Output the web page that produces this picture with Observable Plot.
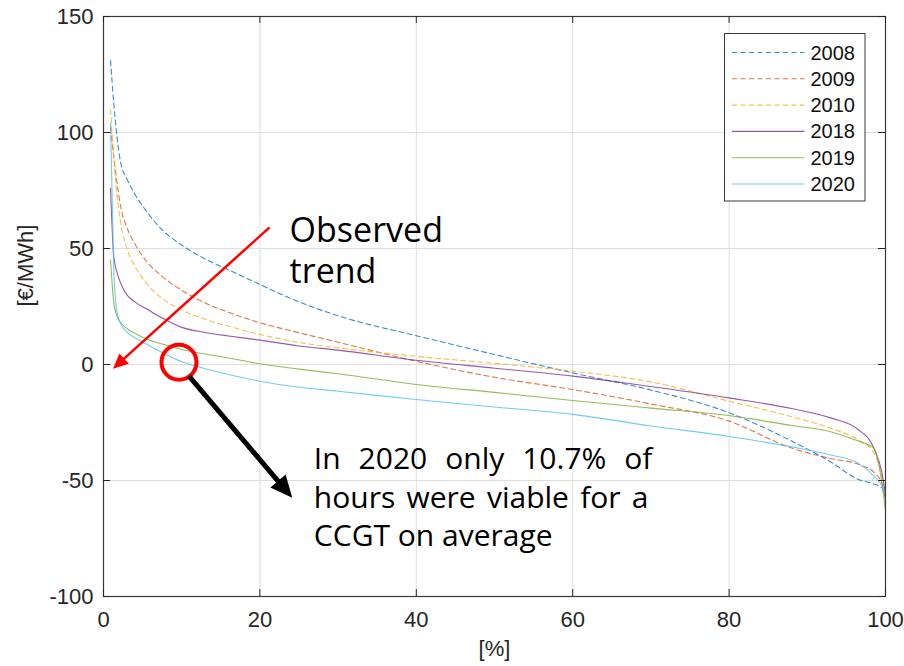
<!DOCTYPE html>
<html><head><meta charset="utf-8">
<script src="https://cdn.jsdelivr.net/npm/d3@7"></script>
<script src="https://cdn.jsdelivr.net/npm/@observablehq/plot@0.6"></script>
<style>
body{margin:0;background:#fff;}
#chart{position:relative;width:904px;height:666px;}
</style></head><body><div id="chart"></div>
<script>
// ---- data ----
const pct = [0.9, 1.3, 1.7, 2.2, 3, 4, 5.5, 7.5, 10, 13, 16, 20, 25, 30, 40, 50, 60, 70, 80, 88, 93, 96.5, 98.5, 99.5, 100];
const years = ["2008", "2009", "2010", "2018", "2019", "2020"];
const p2008 = [131, 113, 99, 87, 80, 73.5, 66, 58, 51.5, 45.5, 40.8, 34.5, 27, 21, 12.4, 4.3, -3.6, -11, -20.8, -33, -42, -49.5, -51.5, -53, -58];
const p2009 = [102, 90, 79, 68, 59, 52, 44.5, 38, 32, 26.5, 22.5, 18, 13.7, 9.6, 1.4, -5.5, -10.8, -17, -24.4, -36, -40.5, -43, -46.5, -51, -58];
const p2010 = [110, 90, 74, 61, 50, 42.5, 35, 28.5, 23.5, 19.5, 16.5, 13, 9.5, 7.2, 3.5, 0.5, -2.9, -7.5, -15.8, -22.5, -27.5, -32.5, -38, -48, -57];
const p2018 = [76, 47, 40, 35, 30, 27, 24, 20, 16, 13.8, 12.3, 10.5, 8, 6.2, 1.8, -1.6, -5, -9.5, -14.4, -19, -23, -28, -36, -46, -56];
const p2019 = [45, 27, 21, 18, 15.5, 13.5, 11, 8.8, 6.5, 4.5, 2.8, 0.3, -2, -4, -8.6, -12, -15.5, -18.8, -22, -26.3, -29, -33, -36, -50, -63];
const p2020 = [104, 42, 23, 17.5, 14, 11.5, 8.8, 5.2, 1.2, -1.8, -4.3, -7.2, -9.8, -11.5, -15.1, -18.3, -21.5, -26.5, -31, -35.5, -39, -42.5, -48, -52, -56];
const seriesValues = [p2008, p2009, p2010, p2018, p2019, p2020];
const xTicks = [0, 20, 40, 60, 80, 100];
const yTicks = [-100, -50, 0, 50, 100, 150];
const annoTrend = ["Observed", "trend"];
const annoNote = ["In 2020 only 10.7% of", "hours were viable for a", "CCGT on average"];

// ---- styles ----
const colors = ["#0072BD", "#D95319", "#EDB120", "#7E2F8E", "#77AC30", "#4DBEEE"];
const dashed = [true, true, true, false, false, false];
const axisFont = "'Liberation Sans', Arial, Helvetica, sans-serif";
const annoFont = "'Open Sans', 'Noto Sans', sans-serif";

const rows = years.flatMap((yr, i) => pct.map((x, j) => ({year: yr, x, y: seriesValues[i][j]})));

const lineMarks = years.map((yr, i) => Plot.line(rows.filter(d => d.year === yr), {
  x: "x", y: "y", stroke: colors[i], strokeWidth: 1.1, strokeOpacity: 0.8,
  strokeDasharray: dashed[i] ? "5,3.5" : undefined, curve: "monotone-x"
}));

const plot = Plot.plot({
  width: 904, height: 666,
  marginLeft: 103, marginRight: 19, marginTop: 16, marginBottom: 70,
  style: `font-family: ${axisFont}; font-size: 22px; color: #262626; background: white; overflow: visible;`,
  x: {domain: [0, 100]},
  y: {domain: [-100, 150]},
  marks: [
    Plot.gridX(xTicks, {stroke: "#dedede", strokeOpacity: 1, strokeWidth: 1}),
    Plot.gridY(yTicks, {stroke: "#dedede", strokeOpacity: 1, strokeWidth: 1}),
    ...lineMarks,
    Plot.frame({stroke: "#3a3a3a", strokeWidth: 1.2}),
    Plot.ruleX(xTicks, {x: d => d, y1: -100, y2: -97, stroke: "#262626"}),
    Plot.ruleX(xTicks, {x: d => d, y1: 150, y2: 147, stroke: "#262626"}),
    Plot.ruleY(yTicks, {y: d => d, x1: 0, x2: 0.9, stroke: "#262626"}),
    Plot.ruleY(yTicks, {y: d => d, x1: 100, x2: 99.1, stroke: "#262626"}),
    Plot.axisX(xTicks, {tickSize: 0, tickPadding: 15, label: null, fontSize: 22, fill: "#262626", tickFormat: d => String(d)}),
    Plot.axisY(yTicks, {tickSize: 0, tickPadding: 10, label: null, fontSize: 22, fill: "#262626", tickFormat: d => String(d)}),
    Plot.text(["[%]"], {frameAnchor: "bottom", dy: 59, fontSize: 22, fill: "#262626"}),
    Plot.text(["[€/MWh]"], {frameAnchor: "left", dx: -78, rotate: -90, fontSize: 22, fill: "#262626"}),
    Plot.dot([{x: 9.65, y: 1.0}], {x: "x", y: "y", r: 17.5, stroke: "#ff0000", strokeWidth: 4, fill: "none"}),
    Plot.text([{t: annoTrend[0], x: 23.8, y: 53}, {t: annoTrend[1], x: 23.8, y: 35.1}],
      {x: "x", y: "y", text: "t", textAnchor: "start", lineAnchor: "bottom", fontSize: 34, fontFamily: annoFont, fill: "#000"}),
    Plot.text([{t: annoNote[0], x: 26.9, y: -45.2}, {t: annoNote[1], x: 26.9, y: -61.7}, {t: annoNote[2], x: 26.9, y: -78.2}],
      {x: "x", y: "y", text: "t", textAnchor: "start", lineAnchor: "bottom", fontSize: 30, fontFamily: annoFont, fill: "#000"})
  ]
});
document.getElementById("chart").appendChild(plot);

const sx = plot.scale("x").apply, sy = plot.scale("y").apply;
const svg = d3.select(plot);

// justify the first two note lines (word spacing)
const justify = [[annoNote[0], 70.2], [annoNote[1], 69.7]];
svg.selectAll("text").each(function() {
  const j = justify.find(d => d[0] === this.textContent);
  if (!j) return;
  const natural = this.getComputedTextLength();
  const target = sx(j[1]) - sx(26.9);
  const spaces = (j[0].match(/ /g) || []).length;
  d3.select(this).style("word-spacing", ((target - natural) / spaces) + "px");
});

// arrows
const ag = svg.append("g");
function arrow(x1, y1, x2, y2, color, width, headLen, headHalf) {
  const X1 = sx(x1), Y1 = sy(y1), X2 = sx(x2), Y2 = sy(y2);
  const dx = X2 - X1, dy = Y2 - Y1, L = Math.hypot(dx, dy), ux = dx / L, uy = dy / L;
  const bx = X2 - ux * headLen, by = Y2 - uy * headLen;
  ag.append("line").attr("x1", X1).attr("y1", Y1).attr("x2", bx + ux * 2).attr("y2", by + uy * 2)
    .attr("stroke", color).attr("stroke-width", width);
  ag.append("path").attr("d", `M${X2},${Y2}L${bx - uy * headHalf},${by + ux * headHalf}L${bx + uy * headHalf},${by - ux * headHalf}Z`)
    .attr("fill", color);
}
arrow(21.3, 58.9, 1.28, -2.0, "#ff0000", 2.5, 15, 7);
arrow(11.0, -5.2, 24.2, -57.7, "#000000", 5, 22, 10);

// legend
const lg = svg.append("g").attr("transform", "translate(724.5,33.5)");
lg.append("rect").attr("width", 140.5).attr("height", 167.5).attr("fill", "white").attr("stroke", "#3a3a3a").attr("stroke-width", 1);
years.forEach((yr, i) => {
  const yy = 19 + i * 26.3;
  lg.append("line").attr("x1", 7.5).attr("x2", 80).attr("y1", yy).attr("y2", yy)
    .attr("stroke", colors[i]).attr("stroke-width", 1.1).attr("stroke-opacity", 0.8)
    .attr("stroke-dasharray", dashed[i] ? "5,3.5" : null);
  lg.append("text").attr("x", 86).attr("y", yy).attr("dy", "0.35em").attr("font-size", 20)
    .attr("text-anchor", "start").attr("font-family", axisFont).attr("fill", "#111").text(yr);
});
</script></body></html>
